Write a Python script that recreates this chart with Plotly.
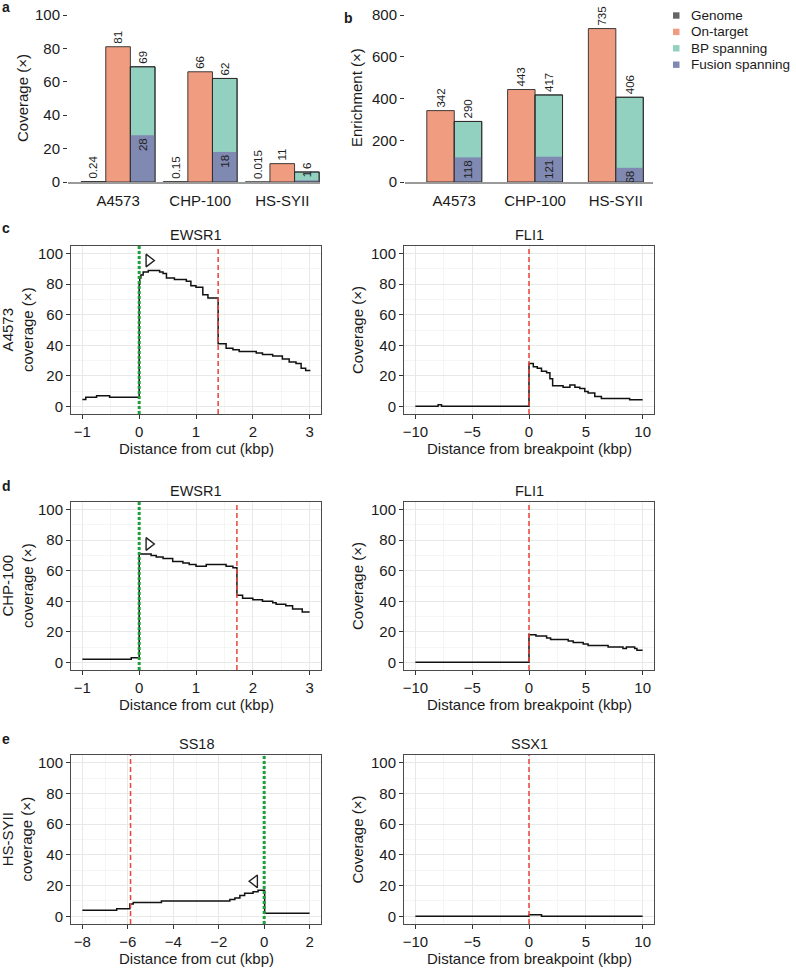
import plotly.graph_objects as go

W, H = 796, 970

# ---------------- data ----------------
cell_lines = ["A4573", "CHP-100", "HS-SYII"]
cat_pos = [1, 2, 3]
cov_genome = [0.24, 0.15, 0.015]
cov_ontarget = [81, 66, 11]
cov_bp = [69, 62, 6]
cov_fusion = [28, 18, 1]
enr_ontarget = [342, 443, 735]
enr_bp = [290, 417, 406]
enr_fusion = [118, 121, 68]
legend_names = ["Genome", "On-target", "BP spanning", "Fusion spanning"]

# coverage profiles (step functions)
c_ewsr1_x = [-1.0, -0.94, -0.75, -0.52, 0.0, 0.01, 0.03, 0.07, 0.16, 0.36, 0.42, 0.48, 0.62, 0.83,
             0.91, 1.0, 1.12, 1.21, 1.39, 1.53, 1.65, 1.76, 2.06, 2.17, 2.35, 2.52, 2.64, 2.76, 2.85,
             2.93, 3.0]
c_ewsr1_y = [4.5, 6, 7, 6, 80, 84, 86, 88, 89, 88, 87, 84, 83, 82, 79, 78, 73, 71, 41, 38, 37, 36,
             35, 34, 33, 31, 29, 28, 25, 23.5, 23]
c_fli1_x = [-10, -8.0, -7.7, 0, 0.38, 0.73, 1.1, 1.55, 1.84, 2.08, 3.0, 3.6, 4.04, 4.47, 4.91, 5.2,
            5.79, 6.37, 8.86, 10]
c_fli1_y = [0, 1, 0, 28, 26, 25, 23, 22, 18, 13.5, 12.5, 14, 12.5, 11.7, 9.8, 8.7, 6.5, 5.2, 4.3, 4.3]

d_ewsr1_x = [-1.0, -0.14, 0.0, 0.21, 0.30, 0.42, 0.59, 0.77, 0.88, 1.0, 1.18, 1.53, 1.65, 1.72,
             1.82, 2.0, 2.17, 2.35, 2.41, 2.58, 2.70, 2.87, 3.0]
d_ewsr1_y = [2, 3, 71, 70, 69, 68, 66, 65, 64, 63, 64, 63, 62, 44, 42, 41, 40, 39, 38, 37, 35, 33, 33]
d_fli1_x = [-10, 0, 0.61, 1.55, 1.9, 3.45, 3.89, 4.77, 5.2, 6.96, 8.27, 8.57, 9.3, 9.5, 10]
d_fli1_y = [0, 18, 17.3, 16, 15, 14, 13, 12, 11, 10, 9, 10, 9, 8, 8]

e_ss18_x = [-8.0, -6.49, -5.91, -5.76, -4.52, -1.51, -1.29, -1.07, -0.86, -0.49, -0.27, 0.02, 2.0]
e_ss18_y = [4, 5, 8, 9, 10, 11, 12, 13.5, 15, 16, 17, 2, 2]
e_ssx1_x = [-10, 0, 1.1, 10]
e_ssx1_y = [0, 1, 0, 0]

# cut sites (green dotted) and breakpoints (red dashed), per panel
cut_sites = {"c": 0.0, "d": 0.0, "e": 0.0}
bp_left = {"c": 1.39, "d": 1.72, "e": -5.88}
bp_right = {"c": 0.0, "d": 0.0, "e": 0.0}
# arrow-head markers (x, y)
tri_c = (0.17, 95.5)
tri_d = (0.17, 77.5)
tri_e = (-0.42, 22.8)

# ---------------- styles ----------------
FONT = "Liberation Sans, Arial, Helvetica, sans-serif"
C_GEN = "#666666"
C_ON = "#F09C80"
C_BP = "#92D1C0"
C_FU = "#8089B1"
C_OUT = "#2A2A2A"
GREEN = "#1F9E3C"
RED = "#E8443A"
TXT = "#1a1a1a"


def xd(a, b):
    return [a / W, b / W]


def yd(top, bottom):
    return [1 - bottom / H, 1 - top / H]


fig = go.Figure()

txtfont = dict(family=FONT, size=11.5, color="#222")


def bars(xa, ya, x, y, off, wid, color, text_pos, line=True):
    fig.add_trace(go.Bar(
        x=x, y=y, offset=off, width=wid, xaxis=xa, yaxis=ya,
        marker=dict(color=color, line=dict(color=C_OUT, width=0.9 if line else 0)),
        text=[str(v) for v in y], textposition=text_pos, textangle=-90,
        insidetextanchor="end", textfont=txtfont, outsidetextfont=txtfont,
        insidetextfont=txtfont, constraintext="none", cliponaxis=False,
        showlegend=False, hoverinfo="skip"))


def outline(xa, ya, x, y, off, wid):
    fig.add_trace(go.Bar(x=x, y=y, offset=off, width=wid, xaxis=xa, yaxis=ya,
                         marker=dict(color="rgba(0,0,0,0)", line=dict(color=C_OUT, width=0.9)),
                         showlegend=False, hoverinfo="skip"))


# ---------- panel a ----------
bars("x", "y", cat_pos, cov_genome, -0.45, 0.3, C_GEN, "outside")
bars("x", "y", cat_pos, cov_ontarget, -0.15, 0.3, C_ON, "outside")
bars("x", "y", cat_pos, cov_bp, 0.15, 0.3, C_BP, "outside")
bars("x", "y", cat_pos, cov_fusion, 0.15, 0.3, C_FU,
     ["inside" if v >= 10 else "outside" for v in cov_fusion], line=False)
outline("x", "y", cat_pos, cov_bp, 0.15, 0.3)

# ---------- panel b ----------
bars("x2", "y2", cat_pos, enr_ontarget, -0.34, 0.34, C_ON, "outside")
bars("x2", "y2", cat_pos, enr_bp, 0.0, 0.34, C_BP, "outside")
bars("x2", "y2", cat_pos, enr_fusion, 0.0, 0.34, C_FU, "inside", line=False)
outline("x2", "y2", cat_pos, enr_bp, 0.0, 0.34)


# ---------- profiles ----------
def prof(xa, ya, x, y):
    fig.add_trace(go.Scatter(x=x, y=y, mode="lines", line=dict(shape="hv", color="#111", width=1.5),
                             xaxis=xa, yaxis=ya, showlegend=False, hoverinfo="skip"))


prof("x3", "y3", c_ewsr1_x, c_ewsr1_y)
prof("x4", "y4", c_fli1_x, c_fli1_y)
prof("x5", "y5", d_ewsr1_x, d_ewsr1_y)
prof("x6", "y6", d_fli1_x, d_fli1_y)
prof("x7", "y7", e_ss18_x, e_ss18_y)
prof("x8", "y8", e_ssx1_x, e_ssx1_y)

for (xa, ya, t, sym) in [("x3", "y3", tri_c, "triangle-right-open"),
                         ("x5", "y5", tri_d, "triangle-right-open"),
                         ("x7", "y7", tri_e, "triangle-left-open")]:
    fig.add_trace(go.Scatter(x=[t[0]], y=[t[1]], mode="markers", xaxis=xa, yaxis=ya,
                             marker=dict(symbol=sym, size=11, color="#222", line=dict(width=1.4)),
                             showlegend=False, hoverinfo="skip"))

shapes = []


def vline(xa, ya, xv, color, dash, width):
    shapes.append(dict(type="line", xref=xa, yref=ya + " domain", x0=xv, x1=xv, y0=0, y1=1,
                       line=dict(color=color, dash=dash, width=width), layer="above"))


vline("x3", "y3", bp_left["c"], RED, "5px,3px", 1.5)
vline("x3", "y3", cut_sites["c"], GREEN, "3px,2px", 3)
vline("x4", "y4", bp_right["c"], RED, "5px,3px", 1.5)
vline("x5", "y5", bp_left["d"], RED, "5px,3px", 1.5)
vline("x5", "y5", cut_sites["d"], GREEN, "3px,2px", 3)
vline("x6", "y6", bp_right["d"], RED, "5px,3px", 1.5)
vline("x7", "y7", bp_left["e"], RED, "5px,3px", 1.5)
vline("x7", "y7", cut_sites["e"], GREEN, "3px,2px", 3)
vline("x8", "y8", bp_right["e"], RED, "5px,3px", 1.5)

# ---------- axes ----------
tickfont = dict(family=FONT, size=15, color=TXT)
lay = dict(width=W, height=H, margin=dict(l=0, r=0, t=0, b=0, pad=0, autoexpand=False),
           paper_bgcolor="white", template="none",
           plot_bgcolor="white", barmode="overlay", font=dict(family=FONT, color=TXT),
           uniformtext=dict(minsize=11.5, mode="show"), showlegend=False)

bar_x = dict(range=[0.39, 3.46], tickvals=cat_pos, ticktext=cell_lines, showline=True,
             linecolor="#9a9a9a", linewidth=1.6, ticks="outside", ticklen=4,
             tickcolor="rgba(0,0,0,0)", showgrid=False, zeroline=False, tickfont=tickfont,
             automargin=False)
lay["xaxis"] = dict(bar_x, domain=xd(68, 320), anchor="y")
lay["yaxis"] = dict(domain=yd(15, 182), range=[0, 100], dtick=20, ticks="outside", ticklen=4,
                    tickcolor="#333", showline=False, showgrid=False, zeroline=False,
                    tickfont=tickfont, anchor="x", automargin=False)
lay["xaxis2"] = dict(bar_x, domain=xd(405, 653), anchor="y2")
lay["yaxis2"] = dict(domain=yd(15, 182), range=[0, 800], dtick=200, ticks="outside", ticklen=4,
                     tickcolor="#333", showline=False, showgrid=False, zeroline=False,
                     tickfont=tickfont, anchor="x2", automargin=False)


def prof_axes(n, xdom, ydom, xr, dt):
    common = dict(showline=True, mirror=True, linecolor="#4a4a4a", linewidth=1, ticks="outside",
                  ticklen=4, tickcolor="#333", gridcolor="#E8E8E8", gridwidth=1, zeroline=False,
                  tickfont=tickfont, automargin=False)
    lay["xaxis%d" % n] = dict(common, domain=xdom, range=xr, dtick=dt, tick0=0,
                              anchor="y%d" % n,
                              minor=dict(dtick=dt / 2, tick0=0, showgrid=True,
                                         gridcolor="#F2F2F2", gridwidth=0.8))
    lay["yaxis%d" % n] = dict(common, domain=ydom, range=[-5, 105], dtick=20, tick0=0,
                              anchor="x%d" % n,
                              minor=dict(dtick=10, tick0=0, showgrid=True,
                                         gridcolor="#F2F2F2", gridwidth=0.8))


rows = [(246, 414), (502, 670), (755, 924)]
prof_axes(3, xd(71, 321), yd(*rows[0]), [-1.2, 3.2], 1)
prof_axes(4, xd(404, 654), yd(*rows[0]), [-11, 11], 5)
prof_axes(5, xd(71, 321), yd(*rows[1]), [-1.2, 3.2], 1)
prof_axes(6, xd(404, 654), yd(*rows[1]), [-11, 11], 5)
prof_axes(7, xd(71, 321), yd(*rows[2]), [-8.5, 2.5], 2)
prof_axes(8, xd(404, 654), yd(*rows[2]), [-11, 11], 5)

# ---------- annotations ----------
anns = []


def ann(text, x, y, size=15, angle=0, bold=False, xanchor="center"):
    anns.append(dict(text=("<b>%s</b>" % text) if bold else text, x=x / W, y=1 - y / H,
                     xref="paper", yref="paper", showarrow=False, textangle=angle,
                     xanchor=xanchor, yanchor="middle",
                     font=dict(family=FONT, size=size, color=TXT)))


ann("a", 0, 7, 14, bold=True, xanchor="left")
ann("b", 342, 18, 14, bold=True, xanchor="left")
ann("c", 0, 228, 14, bold=True, xanchor="left")
ann("d", 0, 486, 14, bold=True, xanchor="left")
ann("e", 0, 739, 14, bold=True, xanchor="left")

ann("Coverage (×)", 23, 98, 15, angle=-90)
ann("Enrichment (×)", 357, 98, 15, angle=-90)

# legend (manual, compact like the reference)
for i, (nm, col) in enumerate(zip(legend_names, [C_GEN, C_ON, C_BP, C_FU])):
    yc = 15.5 + i * 16.4
    shapes.append(dict(type="rect", xref="paper", yref="paper", x0=673 / W, x1=679.5 / W,
                       y0=1 - (yc + 3.2) / H, y1=1 - (yc - 3.2) / H,
                       fillcolor=col, line=dict(width=0)))
    ann(nm, 689, yc, 13.5, xanchor="left")

for (top, bot), lab, g1, g2 in [
        (rows[0], "A4573<br>coverage (×)", "EWSR1", "FLI1"),
        (rows[1], "CHP-100<br>coverage (×)", "EWSR1", "FLI1"),
        (rows[2], "HS-SYII<br>coverage (×)", "SS18", "SSX1")]:
    mid = (top + bot) / 2
    ann(lab, 17, mid, 15, angle=-90)
    ann("Coverage (×)", 357, mid, 15, angle=-90)
    ann(g1, 196, top - 11, 14.5)
    ann(g2, 529, top - 11, 14.5)
    ann("Distance from cut (kbp)", 196, bot + 34, 15)
    ann("Distance from breakpoint (kbp)", 529, bot + 34, 15)

lay["annotations"] = anns
lay["shapes"] = shapes
fig.update_layout(**lay)
fig.write_html(
    "out.html",
    config={"displayModeBar": False, "staticPlot": True},
    post_script="document.documentElement.style.margin='0';document.body.style.margin='0';"
                "document.body.style.padding='0';document.body.style.overflow='hidden';")
